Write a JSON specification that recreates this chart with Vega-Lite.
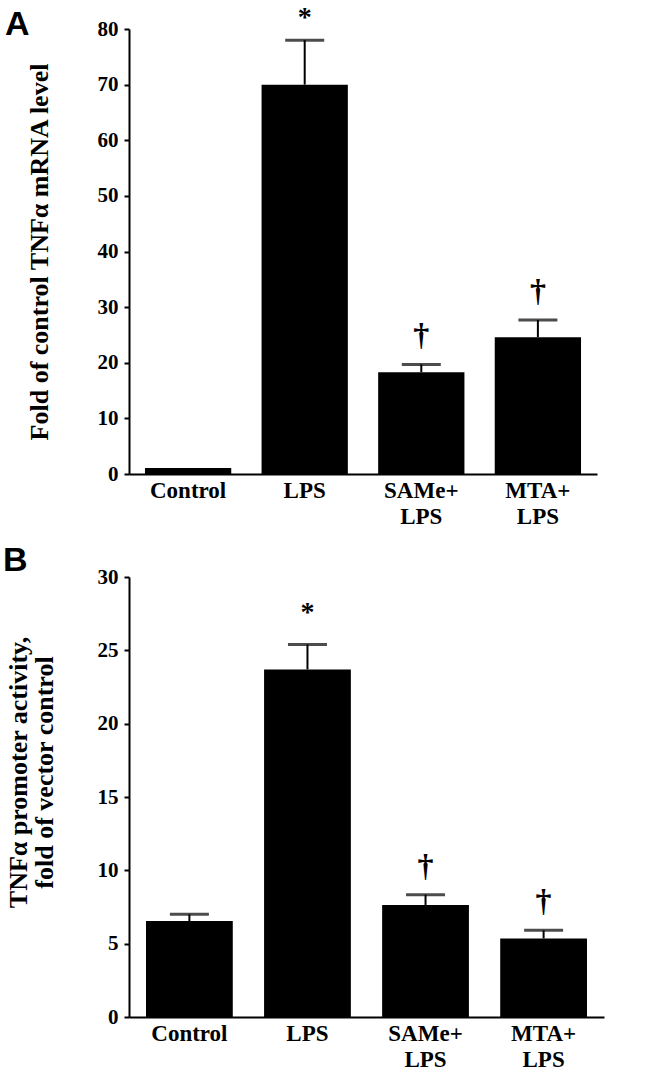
{
  "$schema": "https://vega.github.io/schema/vega-lite/v6.json",
  "background": "white",
  "padding": {"left": 3, "top": 4, "right": 5, "bottom": 5},
  "bounds": "flush",
  "spacing": 103,
  "config": {"view": {"stroke": null}, "font": "Liberation Serif"},
  "datasets": {
    "a": [
      {"g": "Control", "v": 1.1, "u": null, "sym": ""},
      {"g": "LPS", "v": 70, "u": 78, "sym": "*"},
      {"g": "SAMe+ LPS", "v": 18.3, "u": 19.7, "sym": "†"},
      {"g": "MTA+ LPS", "v": 24.6, "u": 27.7, "sym": "†"}
    ],
    "b": [
      {"g": "Control", "v": 6.54, "u": 7.0, "sym": ""},
      {"g": "LPS", "v": 23.7, "u": 25.4, "sym": "*"},
      {"g": "SAMe+ LPS", "v": 7.64, "u": 8.34, "sym": "†"},
      {"g": "MTA+ LPS", "v": 5.36, "u": 5.91, "sym": "†"}
    ]
  },
  "vconcat": [
    {
      "width": 468,
      "height": 445,
      "title": {"text": "A", "anchor": "start", "frame": "group", "font": "Liberation Sans", "fontSize": 34, "fontWeight": "bold", "color": "black", "dx": -124, "offset": -38},
      "data": {"name": "a"},
      "encoding": {
        "x": {
          "field": "g", "type": "nominal", "sort": null,
          "scale": {"paddingInner": 0.26, "paddingOuter": 0.137},
          "axis": {"title": null, "ticks": false, "labelAngle": 0, "labelFont": "Liberation Serif", "labelFontWeight": "bold", "labelFontSize": 23, "labelColor": "black", "labelPadding": 5, "labelLineHeight": 26, "labelExpr": "split(datum.label, ' ')", "domainColor": "black", "domainWidth": 2, "labelOverlap": false}
        }
      },
      "layer": [
        {
          "mark": {"type": "bar", "color": "black"},
          "encoding": {
            "y": {
              "field": "v", "type": "quantitative",
              "scale": {"domain": [0, 80], "nice": false},
              "axis": {"values": [0, 5, 10, 15, 20, 25, 30, 35, 40, 45, 50, 55, 60, 65, 70, 75, 80], "labelExpr": "datum.value % 10 === 0 ? datum.label : ''", "tickSize": {"condition": {"test": "datum.value % 10 === 0", "value": 5}, "value": 3}, "tickWidth": 2, "tickColor": "black", "domainColor": "black", "domainWidth": 2, "grid": false, "labelFont": "Liberation Serif", "labelFontWeight": "bold", "labelFontSize": 21, "labelColor": "black", "labelPadding": 6, "title": "Fold of control TNFα mRNA level", "titleFont": "Liberation Serif", "titleFontWeight": "bold", "titleFontSize": 26, "titleColor": "black", "titlePadding": 45}
            }
          }
        },
        {
          "mark": {"type": "rule", "color": "black", "strokeWidth": 2},
          "encoding": {"y": {"field": "v", "type": "quantitative"}, "y2": {"field": "u"}}
        },
        {
          "mark": {"type": "tick", "color": "black", "thickness": 3, "size": 39},
          "encoding": {"y": {"field": "u", "type": "quantitative"}}
        },
        {
          "transform": [{"filter": "datum.sym === '†'"}],
          "mark": {"type": "text", "font": "Liberation Serif", "fontWeight": "bold", "fontSize": 32, "baseline": "middle", "dy": -29, "color": "black"},
          "encoding": {"y": {"field": "u", "type": "quantitative"}, "text": {"field": "sym"}}
        },
        {
          "transform": [{"filter": "datum.sym === '*'"}],
          "mark": {"type": "text", "font": "Liberation Serif", "fontWeight": "bold", "fontSize": 28, "baseline": "middle", "dy": -22, "color": "black"},
          "encoding": {"y": {"field": "u", "type": "quantitative"}, "text": {"field": "sym"}}
        }
      ]
    },
    {
      "width": 475,
      "height": 440,
      "title": {"text": "B", "anchor": "start", "frame": "group", "font": "Liberation Sans", "fontSize": 34, "fontWeight": "bold", "color": "black", "dx": -126, "offset": -12},
      "data": {"name": "b"},
      "encoding": {
        "x": {
          "field": "g", "type": "nominal", "sort": null,
          "scale": {"paddingInner": 0.265, "paddingOuter": 0.144},
          "axis": {"title": null, "ticks": false, "labelAngle": 0, "labelFont": "Liberation Serif", "labelFontWeight": "bold", "labelFontSize": 23, "labelColor": "black", "labelPadding": 5, "labelLineHeight": 26, "labelExpr": "split(datum.label, ' ')", "domainColor": "black", "domainWidth": 2, "labelOverlap": false}
        }
      },
      "layer": [
        {
          "mark": {"type": "bar", "color": "black"},
          "encoding": {
            "y": {
              "field": "v", "type": "quantitative",
              "scale": {"domain": [0, 30], "nice": false},
              "axis": {"values": [0, 2.5, 5, 7.5, 10, 12.5, 15, 17.5, 20, 22.5, 25, 27.5, 30], "labelExpr": "datum.value % 5 === 0 ? datum.label : ''", "tickSize": {"condition": {"test": "datum.value % 5 === 0", "value": 5}, "value": 3}, "tickWidth": 2, "tickColor": "black", "domainColor": "black", "domainWidth": 2, "grid": false, "labelFont": "Liberation Serif", "labelFontWeight": "bold", "labelFontSize": 21, "labelColor": "black", "labelPadding": 6, "title": ["TNFα promoter activity,", "fold of vector control"], "titleFont": "Liberation Serif", "titleFontWeight": "bold", "titleFontSize": 26, "titleColor": "black", "titlePadding": 40, "titleLineHeight": 26, "titleY": 195}
            }
          }
        },
        {
          "mark": {"type": "rule", "color": "black", "strokeWidth": 2},
          "encoding": {"y": {"field": "v", "type": "quantitative"}, "y2": {"field": "u"}}
        },
        {
          "mark": {"type": "tick", "color": "black", "thickness": 3, "size": 39},
          "encoding": {"y": {"field": "u", "type": "quantitative"}}
        },
        {
          "transform": [{"filter": "datum.sym === '†'"}],
          "mark": {"type": "text", "font": "Liberation Serif", "fontWeight": "bold", "fontSize": 32, "baseline": "middle", "dy": -29, "color": "black"},
          "encoding": {"y": {"field": "u", "type": "quantitative"}, "text": {"field": "sym"}}
        },
        {
          "transform": [{"filter": "datum.sym === '*'"}],
          "mark": {"type": "text", "font": "Liberation Serif", "fontWeight": "bold", "fontSize": 28, "baseline": "middle", "dy": -31, "color": "black"},
          "encoding": {"y": {"field": "u", "type": "quantitative"}, "text": {"field": "sym"}}
        }
      ]
    }
  ]
}
